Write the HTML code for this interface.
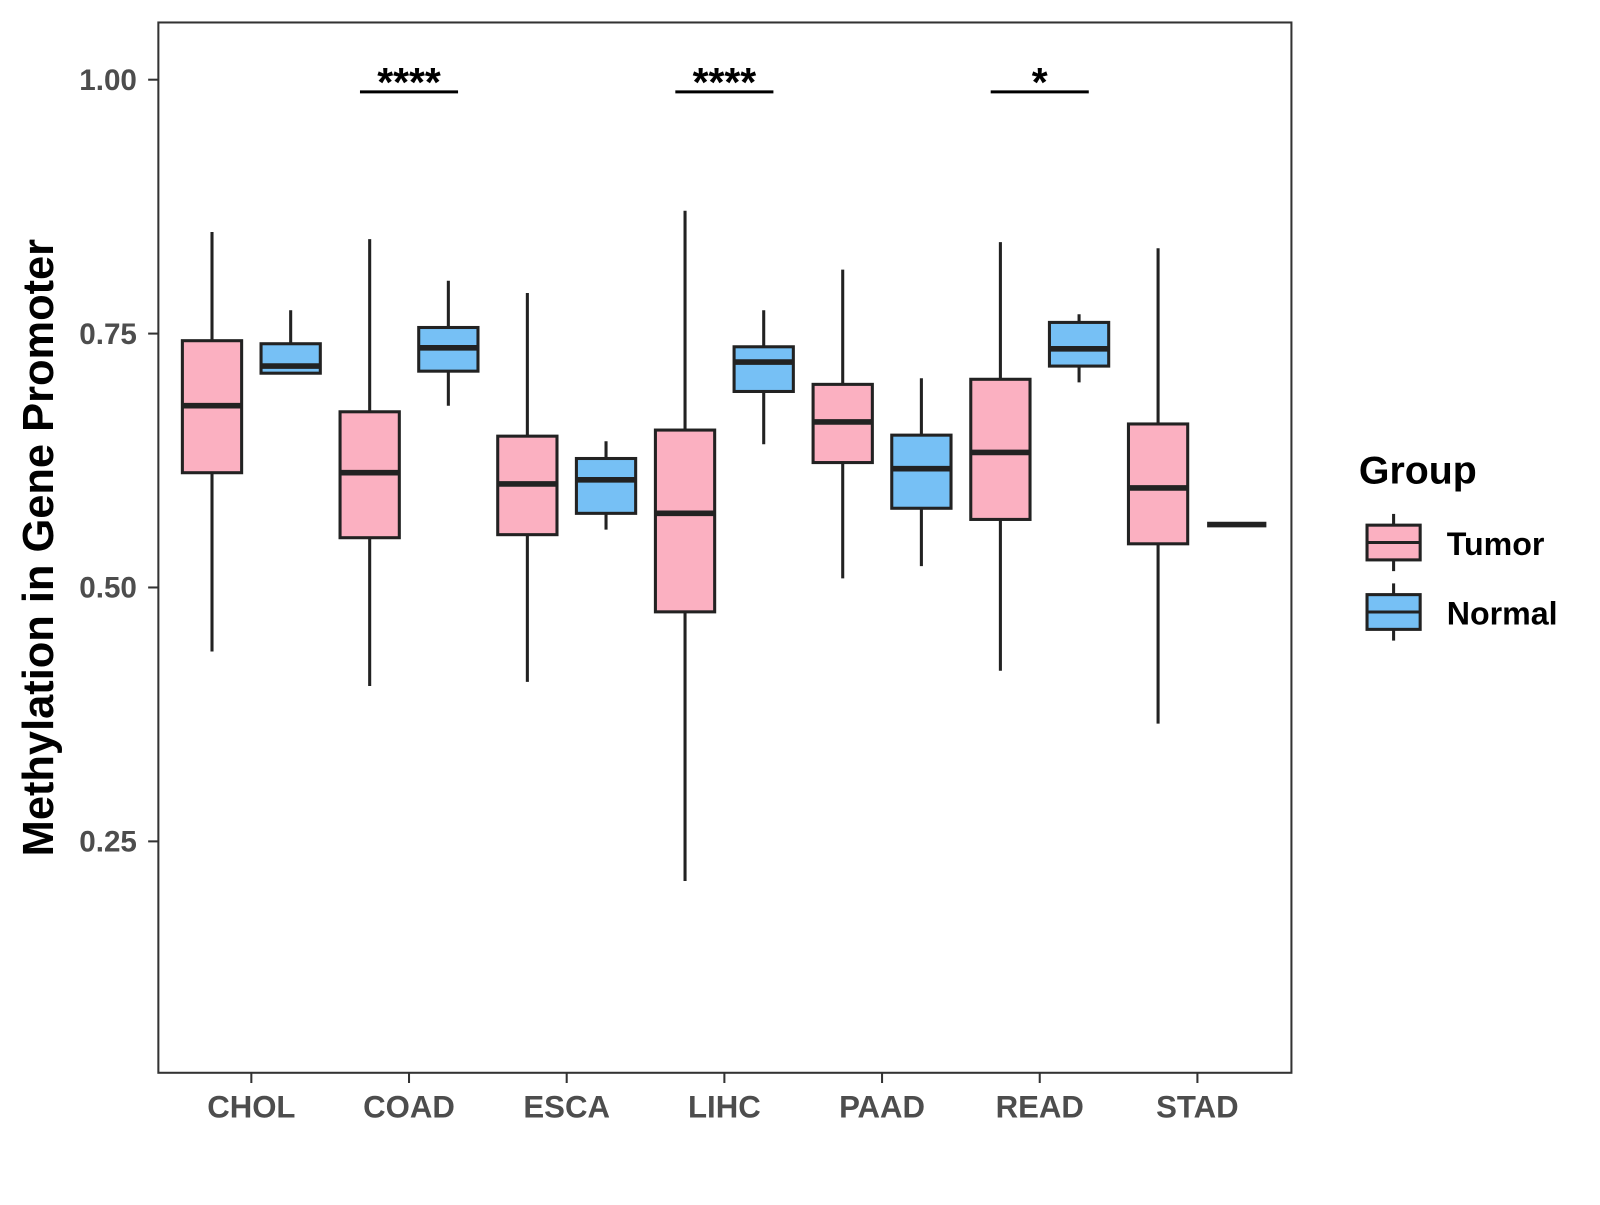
<!DOCTYPE html>
<html><head><meta charset="utf-8"><style>
body{margin:0;background:#fff;}
svg{font-family:"Liberation Sans",Arial,sans-serif;}
</style></head><body>
<svg id="chart" width="1600" height="1200" viewBox="0 0 1600 1200">
<g transform="scale(1.0217)">
<rect x="155" y="22" width="1109" height="1028" fill="#fff" stroke="#333" stroke-width="2"/>
<g id="yaxis"></g>
<g id="xaxis"></g>
<g id="boxes"></g>
<g id="sig"></g>
<text x="52" y="536" transform="rotate(-90 52 536)" text-anchor="middle" font-size="42.5" font-weight="bold" fill="#000">Methylation in Gene Promoter</text>
<g>
<text x="1330" y="473" font-size="38.5" font-weight="bold" fill="#000">Group</text>
<g>
<line x1="1364" y1="503" x2="1364" y2="559" stroke="#222" stroke-width="3"/>
<rect x="1338" y="514" width="52" height="34" fill="#FBB0C1" stroke="#222" stroke-width="3"/>
<line x1="1338" y1="531" x2="1390" y2="531" stroke="#222" stroke-width="3"/>
<text x="1416" y="543" font-size="31.5" font-weight="bold" fill="#000">Tumor</text>
</g>
<g>
<line x1="1364" y1="571" x2="1364" y2="627" stroke="#222" stroke-width="3"/>
<rect x="1338" y="582" width="52" height="34" fill="#76C0F5" stroke="#222" stroke-width="3"/>
<line x1="1338" y1="599" x2="1390" y2="599" stroke="#222" stroke-width="3"/>
<text x="1416" y="611" font-size="31.5" font-weight="bold" fill="#000">Normal</text>
</g>
</g>
</g>
</svg>
<script>
const categories=["CHOL","COAD","ESCA","LIHC","PAAD","READ","STAD"];
const tumorStats=[[0.437,0.613,0.679,0.743,0.850],[0.403,0.549,0.613,0.673,0.843],[0.407,0.552,0.602,0.649,0.790],[0.211,0.476,0.573,0.655,0.871],[0.509,0.623,0.663,0.700,0.813],[0.418,0.567,0.633,0.705,0.840],[0.366,0.543,0.598,0.661,0.834]];
const normalStats=[[0.711,0.711,0.718,0.740,0.773],[0.679,0.713,0.736,0.756,0.802],[0.557,0.573,0.606,0.627,0.644],[0.641,0.693,0.722,0.737,0.773],[0.521,0.578,0.617,0.650,0.706],[0.702,0.718,0.735,0.761,0.769],[0.562,0.562,0.562,0.562,0.562]];
const yTicks=[0.25,0.5,0.75,1.0];
const yTickLabels=["0.25","0.50","0.75","1.00"];
const sigCats=["COAD","LIHC","READ"];
const sigLabels=["****","****","*"];
const sigLevel=0.988;
const NS="http://www.w3.org/2000/svg";
function y(v){return 78+(1-v)*994;}
function x(i){return 246+i*154.33;}
function mk(t,a,p){const e=document.createElementNS(NS,t);for(const k in a)e.setAttribute(k,a[k]);p.appendChild(e);return e;}
const ya=document.getElementById('yaxis'),xa=document.getElementById('xaxis'),bx=document.getElementById('boxes'),sg=document.getElementById('sig');
yTicks.forEach((t,i)=>{
 const l=mk('line',{x1:145,x2:155,y1:y(t),y2:y(t),stroke:'#333','stroke-width':2},ya);
 
 
 const tx=mk('text',{x:134,y:y(t)+10,'text-anchor':'end','font-size':29,'font-weight':'bold',fill:'#4d4d4d'},ya);
 tx.textContent=yTickLabels[i];
 
 
});
categories.forEach((c,i)=>{
 const l=mk('line',{x1:x(i),x2:x(i),y1:1050,y2:1060,stroke:'#333','stroke-width':2},xa);
 
 
 const tx=mk('text',{x:x(i),y:1094,'text-anchor':'middle','font-size':30.5,'font-weight':'bold',fill:'#4d4d4d'},xa);
 tx.textContent=c;
 
 
});
function drawBox(cx,s,fill,name){
 const g=mk('g',{},bx);
 
 
 const w=58;
 mk('line',{x1:cx,x2:cx,y1:y(s[0]),y2:y(s[4]),stroke:'#222','stroke-width':3},g);
 if(s[3]>s[1]) mk('rect',{x:cx-w/2,y:y(s[3]),width:w,height:y(s[1])-y(s[3]),fill:fill,stroke:'#222','stroke-width':3},g);
 mk('line',{x1:cx-w/2,x2:cx+w/2,y1:y(s[2]),y2:y(s[2]),stroke:'#222','stroke-width':5.5},g);
}
categories.forEach((c,i)=>{
 drawBox(x(i)-38.5,tumorStats[i],'#FBB0C1','box-'+c.toLowerCase()+'-tumor');
 drawBox(x(i)+38.5,normalStats[i],'#76C0F5','box-'+c.toLowerCase()+'-normal');
});
sigCats.forEach((c,k)=>{
 const i=categories.indexOf(c);
 const l=mk('line',{x1:x(i)-48,x2:x(i)+48,y1:y(sigLevel),y2:y(sigLevel),stroke:'#000','stroke-width':3},sg);
 
 
 const t=mk('text',{x:x(i),y:y(sigLevel)+4,'text-anchor':'middle','font-size':40,'font-weight':'bold',fill:'#000'},sg);
 t.textContent=sigLabels[k];
 
 
});
</script>
</body></html>
